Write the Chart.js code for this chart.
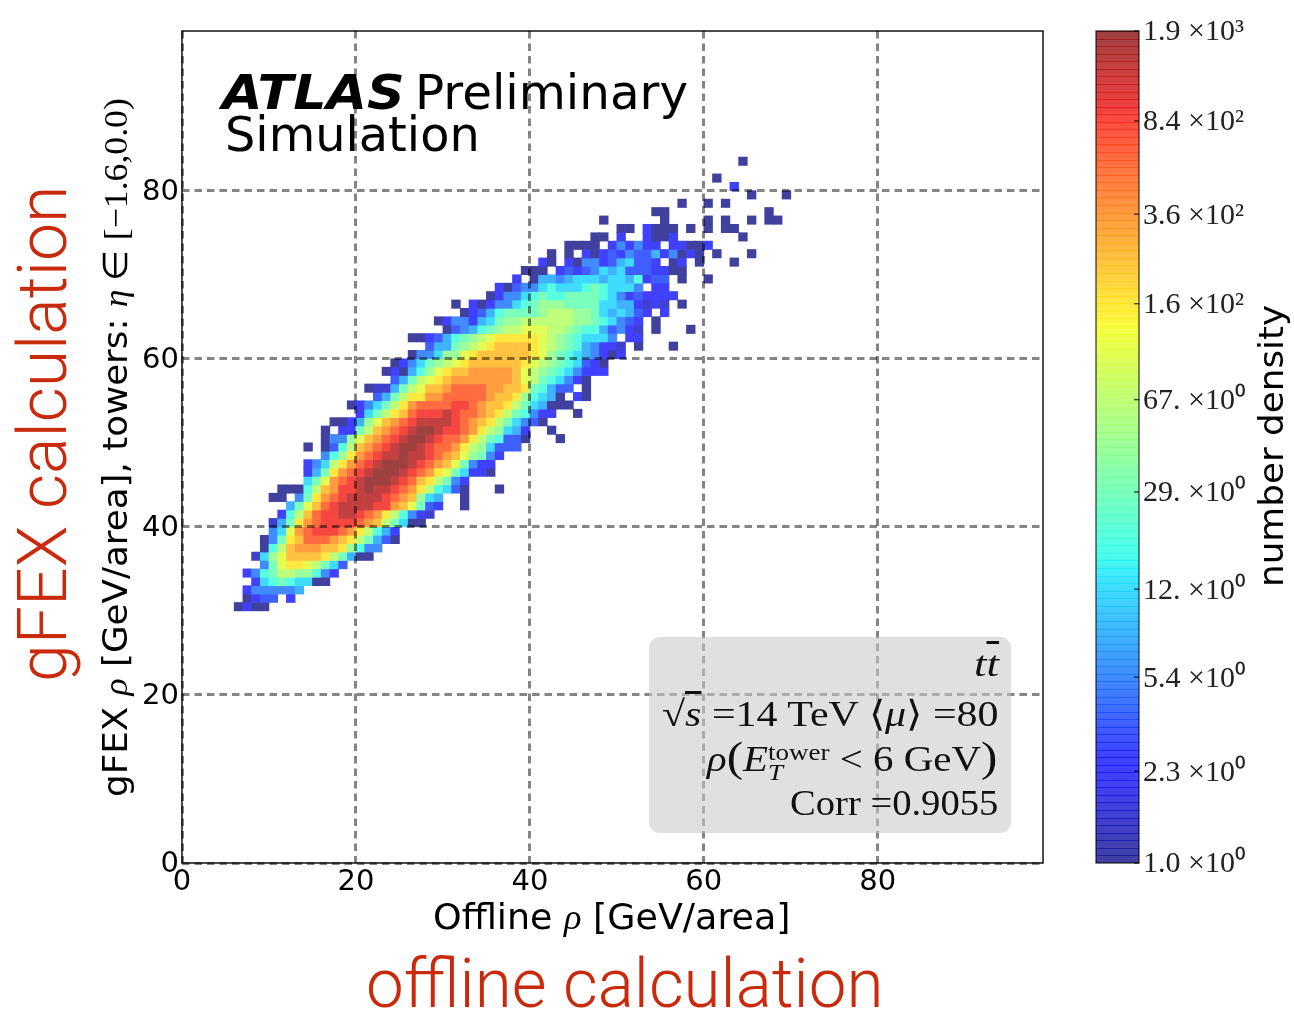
<!DOCTYPE html>
<html>
<head>
<meta charset="utf-8">
<script src="https://cdn.jsdelivr.net/npm/chart.js@4"></script>
<style>
  body { margin: 0; background: #fff; width: 1294px; height: 1011px; overflow: hidden; position: relative; }
  canvas { position: absolute; top: 0; }
  .lbl { position: absolute; white-space: nowrap; line-height: 1; transform-origin: 0 0; font-family: "DejaVu Sans"; color: #000; }
  .lbl i { font-family: "Liberation Serif"; }
  .red { font-family: Roboto; font-weight: 300; color: #c92a0c; font-size: 68px; }
  .tex { font-family: "Liberation Serif"; font-size: 36px; color: #111; }
  #box { position: absolute; left: 649px; top: 637px; width: 362px; height: 196px; border-radius: 11px; background: rgba(201,201,201,.575); }
  .ss { display: inline-block; vertical-align: -0.38em; font-size: .66em; line-height: .86; text-align: left; }
  .ss span, .ss i { display: block; }
  .big { font-size: 1.2em; font-weight: 100; }
  .ol { text-decoration: overline; }
</style>
</head>
<body>
<canvas id="mainChart" width="1294" height="1011" style="left:0"></canvas>
<canvas id="barChart" width="234" height="1011" style="left:1060px"></canvas>

<div class="lbl" data-w="183" style="left:222px;top:68px;font-size:48px;font-weight:bold;font-style:italic">ATLAS</div>
<div class="lbl" data-w="273" style="left:415px;top:68px;font-size:48px">Preliminary</div>
<div class="lbl" data-w="255" style="left:225px;top:110px;font-size:48px">Simulation</div>

<div class="lbl" data-w="357" style="left:433px;top:899px;font-size:36px">Offline <i>ρ</i> [GeV/area]</div>
<div class="lbl" data-w="699" data-rot="1" style="left:98px;top:797px;font-size:34px">gFEX <i>ρ</i> [GeV/area], towers: <i>η</i><span style="font-family:'Liberation Serif'"> ∈ [−1.6,0.0)</span></div>
<div class="lbl" data-w="282" data-rot="1" style="left:1254px;top:587px;font-size:34px">number density</div>

<div class="lbl red" data-w="517" style="left:366px;top:950px">offline calculation</div>
<div class="lbl red" data-w="497" data-rot="1" style="left:9px;top:682px">gFEX calculation</div>

<div id="box"></div>
<div class="lbl tex" data-w="25" style="left:974px;top:646px"><i>t</i><i class="ol">t</i></div>
<div class="lbl tex" data-w="337" style="left:662px;top:696px">√<i class="ol">s</i> =14 TeV ⟨<i>μ</i>⟩ =80</div>
<div class="lbl tex" data-w="290" style="left:707px;top:735px"><i>ρ</i><span class="big">(</span><i>E</i><span class="ss"><span>tower</span><i>T</i></span> &lt; 6 GeV<span class="big">)</span></div>
<div class="lbl tex" data-w="208" style="left:790px;top:785px">Corr =0.9055</div>

<script>
// density levels, a cell's character is an index in here
const levelValues = [1.0, 1.5, 2.3, 3.5, 5.4, 8, 12, 19, 29, 44, 67, 104, 160, 240, 360, 600, 900, 1400, 1900];
const levelChars = "0123456789abcdefghi";

// one entry per row of the histogram, y bin goes up by 1 from firstRow, "." is an empty cell
const firstRow = 30;
const rowStarts = [6, 7, 7, 8, 7, 9, 8, 9, 9, 10,
  10, 11, 12, 10, 11, 14, 14, 14, 16, 14,
  16, 16, 17, 20, 19, 22, 21, 24, 23, 24,
  26, 28, 26, 30, 29, 32, 31, 35, 36, 38,
  39, 41, 42, 44, 47, 50, 48, 54, 57, 65,
  63, 61, 0, 64];
const rowCells = [
  "0200",
  "0233.2",
  "2444445",
  "267876600",
  "2478aa99742",
  "48bccba863",
  "169bddddca8500",
  "07adeeeddc9744",
  "048cdfffedca8530",
  "46befgggfeca752",
  "158cefggggfeda8600",
  "27adfgghhgfeca7421",
  "58bdfghhhhggedb832..0",
  "00.48cefghhhhgfed965..0",
  "0007adegghihhgfeca7630...0",
  "68befghiiihgfdca842",
  "258cefghiiihgfecb86220",
  "246acefghiiihgfedb8422",
  "479cefghhihhgfedb9842",
  "0.037adefghiihgffeca96333",
  "0449bdefghiihgffeca87330...0",
  "0.228adefghiihggfeca9652..0",
  "00259bdefghhhhgfedca86430",
  "268acdfggghgffedca87422..0",
  "02468aceffffggfeddca865000",
  "358acceefffffeddc97650.20",
  "01158abddeffffeeddc87533.0",
  "358abcdeeeeeeedba876420",
  "020579bcddeeeeedba98764222",
  "024689abcddddddcba9876320",
  "044699bcddddddcb987654202",
  "35589abcddddcba98754221.0...0",
  "00235789abcccccba9876664.22",
  "0345789aabbbaa987753421.0...0",
  "0244256899aaaaaa99876432.0",
  "0235788889aaa998656532.2",
  "0.20244678999888866552121.0",
  "0244678778888764232222",
  "20344676667876664.22",
  "2.0554566656657233.0..0",
  "000.232346563332200",
  "20.20442356332.02.0...0",
  "0.0.20232433524020.0...0",
  "0000.242422.22002",
  "00.2..2002.......0",
  "00.2000.0.0.00",
  "0......0....0.0..0.00",
  "00...........0",
  "0..0.0",
  "0...0",
  "2",
  "0",
  "",
  "0"
];

const axisTicks = [0, 20, 40, 60, 80];
const axisMax = 99;
const barTicks = [1.0, 2.3, 5.4, 12, 29, 67, 160, 360, 840, 1900];
const barLabels = ["1.0 ×10⁰", "2.3 ×10⁰", "5.4 ×10⁰", "12. ×10⁰", "29. ×10⁰", "67. ×10⁰", "1.6 ×10²", "3.6 ×10²", "8.4 ×10²", "1.9 ×10³"];

// matplotlib jet, blended over white
function ramp(x, pts) {
  for (let i = 1; i < pts.length; i++) {
    if (x <= pts[i][0]) {
      const a = pts[i - 1], b = pts[i];
      return a[1] + (b[1] - a[1]) * (x - a[0]) / (b[0] - a[0]);
    }
  }
  return pts[pts.length - 1][1];
}
function jet(t, alpha = .75) {
  const r = ramp(t, [[0, 0], [.35, 0], [.66, 1], [.89, 1], [1, .5]]);
  const g = ramp(t, [[0, 0], [.125, 0], [.375, 1], [.64, 1], [.91, 0], [1, 0]]);
  const b = ramp(t, [[0, .5], [.11, 1], [.34, 1], [.65, 0], [1, 0]]);
  const mix = c => Math.round(255 * (c * alpha + 1 - alpha));
  return "rgb(" + mix(r) + "," + mix(g) + "," + mix(b) + ")";
}
const vMax = barTicks[barTicks.length - 1];
const colorOf = v => jet(Math.log(v) / Math.log(vMax));

var cells = [];
rowCells.forEach(function(row, r) {
  for (var c = 0; c < row.length; c++) {
    if (row[c] == ".") continue;
    var x = rowStarts[r] + c;
    cells.push({ x: [x, x + 1], y: firstRow + r + .5, v: levelValues[levelChars.indexOf(row[c])] });
  }
});

// box round the plot area and, on the colour bar, the little ticks
const framePlugin = {
  id: "frame",
  afterDraw(chart, args, opts) {
    const a = chart.chartArea, c = chart.ctx;
    c.save();
    c.strokeStyle = opts.color;
    c.lineWidth = 1.4;
    c.strokeRect(a.left, a.top, a.right - a.left, a.bottom - a.top);
    if (opts.ticks) {
      chart.scales.y.ticks.forEach(function(t) {
        const y = chart.scales.y.getPixelForValue(t.value);
        c.beginPath();
        c.moveTo(a.right - 5, y);
        c.lineTo(a.right, y);
        c.stroke();
      });
    }
    c.restore();
  }
};

const gridOpts = { z: 1, color: "rgba(0,0,0,.48)", lineWidth: 3, drawTicks: false, offset: false };
const borderOpts = { display: false, dash: [7.5, 5] };
const tickFont = { family: "DejaVu Sans", size: 29 };

new Chart(document.getElementById("mainChart"), {
  type: "bar",
  data: {
    datasets: [{
      data: cells,
      backgroundColor: ctx => ctx.raw ? colorOf(ctx.raw.v) : "#fff",
      barThickness: 8.4,
      borderWidth: 0
    }]
  },
  options: {
    indexAxis: "y",
    responsive: false,
    animation: false,
    layout: { padding: { top: 31, right: 251 } },
    plugins: { legend: { display: false }, tooltip: { enabled: false }, frame: { color: "#000" } },
    scales: {
      x: {
        type: "linear", min: 0, max: axisMax,
        afterFit: s => { s.height = 148; },
        afterBuildTicks: s => { s.ticks = axisTicks.map(v => ({ value: v })); },
        grid: gridOpts, border: borderOpts,
        ticks: { color: "#000", font: tickFont, padding: 2, maxRotation: 0, autoSkip: false }
      },
      y: {
        type: "linear", min: 0, max: axisMax, offset: false,
        afterFit: s => { s.width = 182; },
        afterBuildTicks: s => { s.ticks = axisTicks.map(v => ({ value: v })); },
        grid: gridOpts, border: borderOpts,
        ticks: { color: "#000", font: tickFont, padding: 3, labelOffset: 1.5, autoSkip: false }
      }
    }
  },
  plugins: [framePlugin]
});

new Chart(document.getElementById("barChart"), {
  type: "bar",
  data: {
    labels: [""],
    datasets: [{
      data: [[barTicks[0], vMax]],
      barPercentage: 1,
      categoryPercentage: 1,
      backgroundColor: function(ctx) {
        const a = ctx.chart.chartArea;
        if (!a) return "#fff";
        const g = ctx.chart.ctx.createLinearGradient(0, a.bottom, 0, a.top);
        // bands with a thin darker line, the overlap stripes of the original
        const n = 110, line = 1 / (a.bottom - a.top);
        for (let k = 0; k < n; k++) {
          const t0 = k / n, t1 = (k + 1) / n;
          g.addColorStop(t0, jet(t0));
          g.addColorStop(t1 - line, jet(t1));
          g.addColorStop(t1 - line, jet(t1, .88));
          g.addColorStop(t1, jet(t1, .88));
        }
        return g;
      }
    }]
  },
  options: {
    responsive: false,
    animation: false,
    layout: { padding: { top: 31, left: 36, bottom: 148 } },
    plugins: { legend: { display: false }, tooltip: { enabled: false }, frame: { color: "rgba(0,0,0,.7)", ticks: true } },
    scales: {
      x: { display: false },
      y: {
        type: "logarithmic", position: "right", min: barTicks[0], max: vMax,
        afterFit: s => { s.width = 155; },
        afterBuildTicks: s => { s.ticks = barTicks.map(v => ({ value: v })); },
        grid: { display: false, drawTicks: false }, border: { display: false },
        ticks: {
          color: "#222", font: { family: "Liberation Serif", size: 30 }, padding: 4, labelOffset: 1.5, autoSkip: false,
          callback: v => barLabels[barTicks.indexOf(v)]
        }
      }
    }
  },
  plugins: [framePlugin]
});

// squeeze each label to the width it has in the picture
document.querySelectorAll(".lbl").forEach(function(el) {
  const k = el.dataset.w / el.offsetWidth;
  el.style.transform = (el.dataset.rot ? "rotate(-90deg) " : "") + "scaleX(" + k + ")";
});
</script>
</body>
</html>
